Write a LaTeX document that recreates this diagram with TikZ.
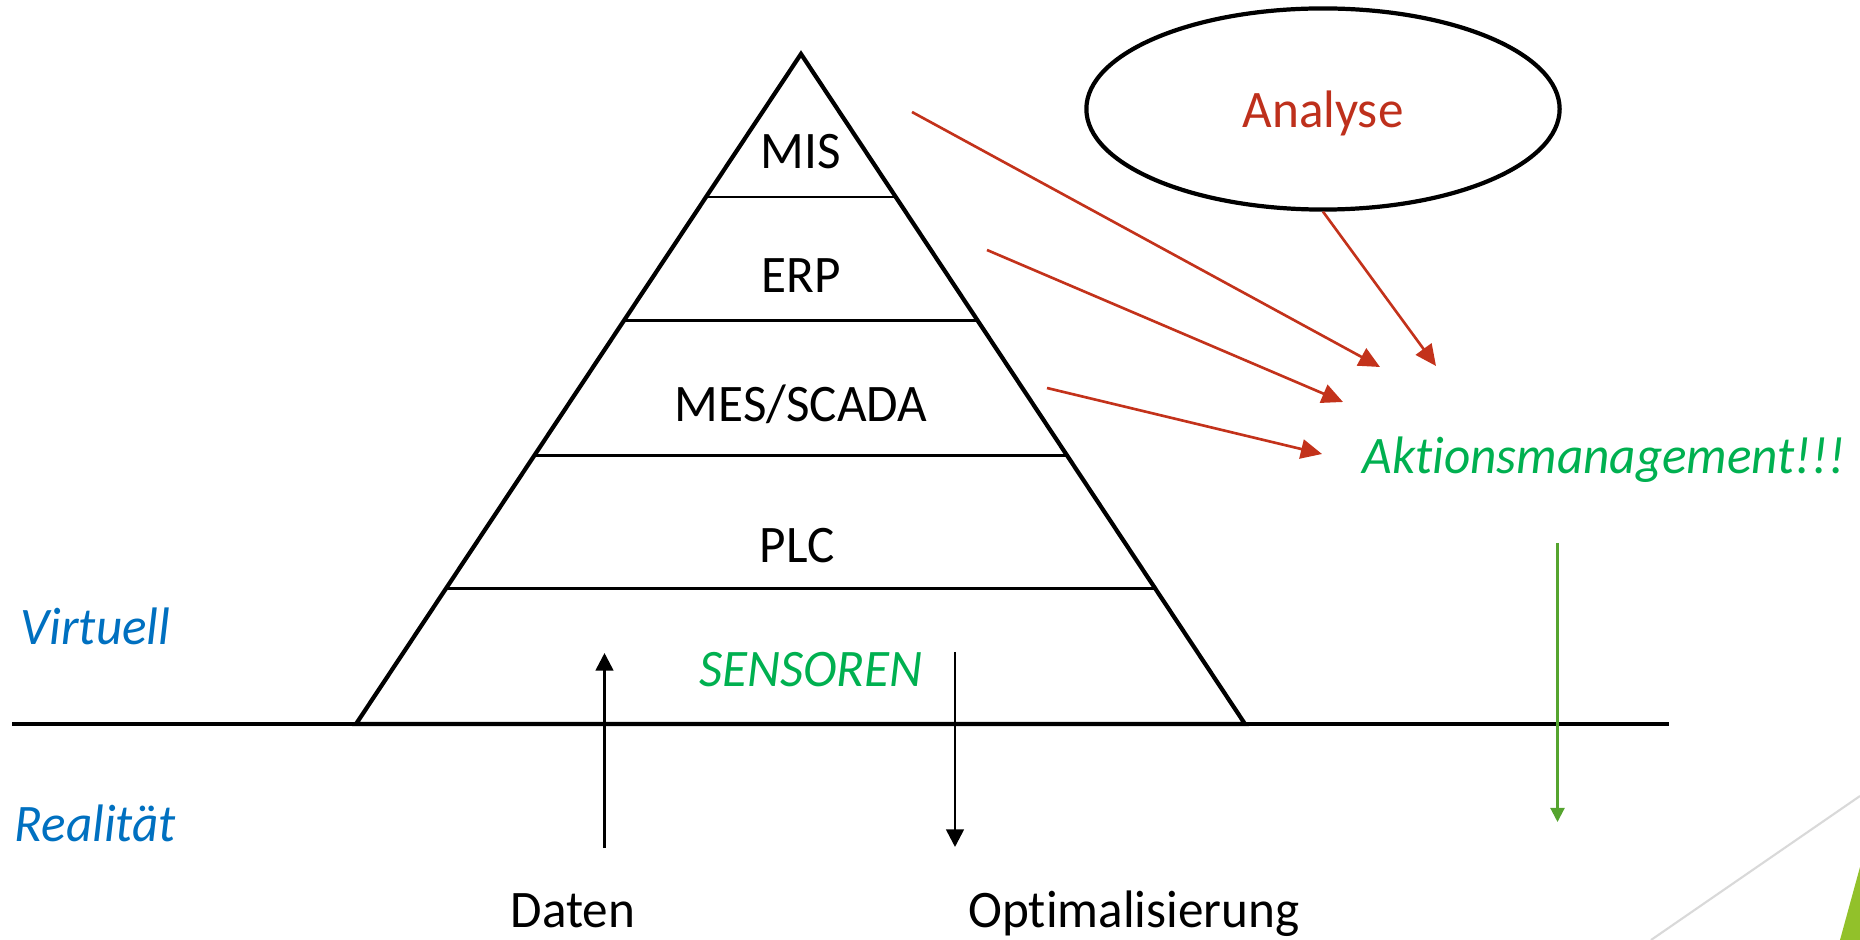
\documentclass[tikz,border=0pt]{standalone}
\usepackage{fontspec}
\setmainfont{Carlito}[Ligatures=NoCommon, FakeStretch=0.97]
\usetikzlibrary{arrows.meta,calc,shapes.geometric}
\definecolor{arrowred}{HTML}{C3321B}
\definecolor{textred}{HTML}{BE301C}
\definecolor{textgreen}{HTML}{00B050}
\definecolor{textblue}{HTML}{0070C0}
\definecolor{arrowgreen}{HTML}{55A42F}
\definecolor{decogreen}{HTML}{92C12A}
\definecolor{decogray}{HTML}{D9D9D9}
\tikzset{
  lbl/.style={font=\fontsize{15pt}{18pt}\selectfont, inner sep=0pt, anchor=base},
  thick3/.style={line width=1.2pt},
  layer/.style={line width=0.8pt},
  redarrow/.style={draw=arrowred, line width=0.75pt, -{Triangle[length=6pt,width=5.5pt]}},
  blackarrow/.style={draw=black, line width=0.75pt, -{Triangle[length=5pt,width=5pt]}},
  greenarrow/.style={draw=arrowgreen, line width=0.6pt, -{Triangle[length=4pt,width=4pt]}},
}
\begin{document}
\begin{tikzpicture}[x=0.01cm,y=-0.01cm]
\useasboundingbox (0,0) rectangle (1860,940);
% decoration bottom right
\draw[decogray, line width=0.6pt] (1651,940) -- (1860,796);
\fill[decogreen] (1840,940) -- (1860,867) -- (1860,940) -- cycle;
% ground line
\coordinate (gl) at (12,724);
\coordinate (gr) at (1669,724);
\draw[thick3] (gl) -- (gr);
% pyramid
\coordinate (apex) at (801,54);
\coordinate (bl) at (356,724);
\coordinate (br) at (1245,724);
\draw[thick3, line join=miter] (apex) -- (bl) -- (br) -- cycle;
\foreach \t in {0.2133,0.3975,0.5993,0.7976}{
  \draw[layer] ($(apex)!\t!(bl)$) -- ($(apex)!\t!(br)$);
}
% layer labels
\node[lbl] (mis) at (801,169) {MIS};
\node[lbl] (erp) at (801,293) {ERP};
\node[lbl] (mes) at (801,422) {MES/SCADA};
\node[lbl] (plc) at (797,563) {PLC};
\node[lbl, text=textgreen, font=\fontsize{15pt}{18pt}\selectfont\itshape] (sens) at (811,686) {SENSOREN};
% analyse
\node[draw, ellipse, line width=1.2pt, minimum width=4.73cm, minimum height=2.01cm, inner sep=0pt] (ana) at (1323,109) {};
\node[lbl, text=textred] (anat) at (1323,128) {Analyse};
% Aktionsmanagement
\node[lbl, text=textgreen, font=\fontsize{15pt}{18pt}\selectfont\itshape, anchor=base west] (akt) at (1362,474) {Aktionsmanagement!!!};
% red arrows
\coordinate (s1) at (912,112);  \coordinate (e1) at (1380,367);
\coordinate (s2) at (987,250);  \coordinate (e2) at (1343,402);
\coordinate (s3) at (1047,388); \coordinate (e3) at (1322,454);
\coordinate (e4) at (1436,366);
\draw[redarrow] (s1) -- (e1);
\draw[redarrow] (s2) -- (e2);
\draw[redarrow] (s3) -- (e3);
\draw[redarrow] (ana.south) -- (e4);
% green arrow
\coordinate (gs) at (1557.5,543);
\coordinate (ge) at (1557.5,822);
\draw[greenarrow] (gs) -- (ge);
% left labels
\node[lbl, text=textblue, font=\fontsize{15pt}{18pt}\selectfont\itshape, anchor=base west] (virt) at (20,645) {Virtuell};
\node[lbl, text=textblue, font=\fontsize{15pt}{18pt}\selectfont\itshape, anchor=base west] (real) at (14,841) {Realität};
% data / optimisation arrows
\coordinate (ds) at (604.5,848); \coordinate (de) at (604.5,653);
\coordinate (os) at (955,652);   \coordinate (oe) at (955,847);
\draw[blackarrow] (ds) -- (de);
\draw[blackarrow] (os) -- (oe);
\node[lbl] (daten) at (573,927) {Daten};
\node[lbl] (opt) at (1134,927) {Optimalisierung};
\end{tikzpicture}
\end{document}
